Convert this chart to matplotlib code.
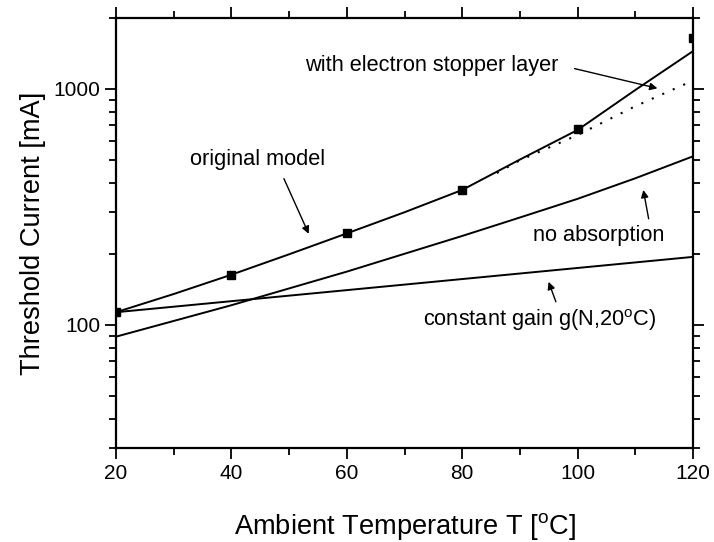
import matplotlib
matplotlib.use("Agg")
import matplotlib.pyplot as plt
from matplotlib.ticker import LogLocator, NullFormatter, FixedLocator, FixedFormatter

plt.rcParams['font.family'] = ['Liberation Sans', 'DejaVu Sans']

# measured points (original model)
meas_T = [20, 40, 60, 80, 100, 120]
meas_I = [113, 163, 244, 373, 677, 1643]

# model curves
orig_T = [20, 30, 40, 50, 60, 70, 80, 90, 100, 110, 120]
orig_I = [113, 135, 163, 199, 244, 300, 373, 502, 670, 990, 1447]

stopper_T = [86, 90, 100, 110, 120]
stopper_I = [440, 498, 638, 845, 1085]

noabs_T = [20, 40, 60, 80, 90, 100, 110, 120]
noabs_I = [89, 121, 168, 238, 285, 342, 418, 518]

const_T = [20, 70, 120]
const_I = [113, 148, 194]

fig = plt.figure(figsize=(7.14, 5.42), dpi=100)
ax = fig.add_axes([0.1625, 0.1734, 0.8081, 0.7934])

lw = 1.4
ax.plot(orig_T, orig_I, color='black', lw=lw)
ax.plot(stopper_T, stopper_I, color='black', lw=1.5, linestyle=(0, (1, 4.5)))
ax.plot(noabs_T, noabs_I, color='black', lw=lw)
ax.plot(const_T, const_I, color='black', lw=lw)
ax.plot(meas_T, meas_I, linestyle='none', marker='s', markersize=5.5,
        color='black', zorder=5)

ax.set_yscale('log')
ax.set_xlim(20, 120)
ax.set_ylim(30, 2000)

ax.xaxis.set_major_locator(FixedLocator([20, 40, 60, 80, 100, 120]))
ax.xaxis.set_minor_locator(FixedLocator([30, 50, 70, 90, 110]))
ax.yaxis.set_major_locator(FixedLocator([100, 1000]))
ax.yaxis.set_major_formatter(FixedFormatter(['100', '1000']))
ax.yaxis.set_minor_locator(LogLocator(base=10, subs=range(2, 10)))
ax.yaxis.set_minor_formatter(NullFormatter())

for s in ax.spines.values():
    s.set_linewidth(1.6)
ax.tick_params(which='both', direction='out', top=True, right=True,
               labeltop=False, labelright=False, width=1.3, labelsize=15)
ax.tick_params(which='major', length=8)
ax.tick_params(which='minor', length=5)

ax.set_xlabel(r'Ambient Temperature T [$^\mathregular{o}$C]', fontsize=19.6, labelpad=20)
ax.set_ylabel('Threshold Current [mA]', fontsize=19.6, labelpad=5)

fs = 15.7
arrow = dict(arrowstyle='-|>', color='black', lw=1.0, mutation_scale=11)

ax.text(74.8, 1253, 'with electron stopper layer', fontsize=fs, ha='center', va='center')
ax.annotate('', xy=(114.3, 1000), xytext=(99, 1228), arrowprops=arrow)

ax.text(44.6, 504, 'original model', fontsize=fs, ha='center', va='center')
ax.annotate('', xy=(53.6, 237), xytext=(48.9, 427), arrowprops=arrow)

ax.text(103.7, 238, 'no absorption', fontsize=fs, ha='center', va='center')
ax.annotate('', xy=(111.3, 383), xytext=(112.4, 274), arrowprops=arrow)

ax.text(93.5, 105, r'constant gain g(N,20$^\mathregular{o}$C)', fontsize=fs,
        ha='center', va='center')
ax.annotate('', xy=(94.8, 156), xytext=(96.4, 122), arrowprops=arrow)

fig.savefig('out.png', dpi=100)
